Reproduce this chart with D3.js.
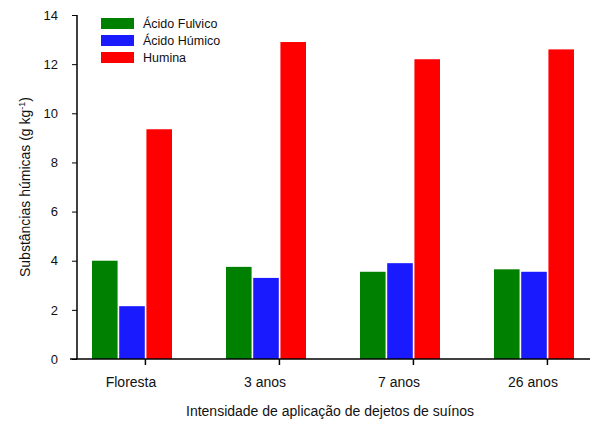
<!DOCTYPE html><html><head><meta charset="utf-8"><script src="https://cdn.jsdelivr.net/npm/d3@7"></script>
<style>body{margin:0;background:#fff}text{font-family:Arial,"Liberation Sans",sans-serif;fill:#111}</style></head><body><svg width="600" height="428"></svg><script>
const categories=["Floresta","3 anos","7 anos","26 anos"];
const seriesNames=["Ácido Fulvico","Ácido Húmico","Humina"];
const fulvico=[4.0,3.75,3.55,3.65];
const humico=[2.15,3.3,3.9,3.55];
const humina=[9.35,12.9,12.2,12.6];
const yTicks=[0,2,4,6,8,10,12,14];
const colors=["#008000","#1a1aff","#ff0000"];
const series=[fulvico,humico,humina];
const svg=d3.select("svg");
const y=d3.scaleLinear().domain([0,14]).range([359,15]);
const x=d3.scaleBand().domain(categories).range([64,600]).paddingInner(0);
const sub=d3.scaleBand().domain([0,1,2]).range([0,80]).paddingInner(0.06);
const g=svg.append("g");
categories.forEach((c,i)=>{
  series.forEach((s,j)=>{
    g.append("rect").attr("x",x(c)+28+sub(j)).attr("width",sub.bandwidth())
     .attr("y",y(s[i])).attr("height",y(0)-y(s[i])).attr("fill",colors[j]);
  });
});
const ya=svg.append("g").attr("transform","translate(77,0)").call(d3.axisLeft(y).tickValues(yTicks).tickSize(5).tickPadding(14));
ya.select(".domain").attr("stroke","#000").attr("stroke-width",1.5).attr("d","M0,15V359");
ya.selectAll("text").style("font-size","13px").attr("fill","#222");
svg.append("line").attr("x1",70).attr("x2",590).attr("y1",359).attr("y2",359).attr("stroke","#000").attr("stroke-width",1.5);
categories.forEach((c,i)=>{
  const tx=x(c)+28+sub(2)-1;
  svg.append("line").attr("x1",tx).attr("x2",tx).attr("y1",359).attr("y2",365).attr("stroke","#000").attr("stroke-width",1.5);
  svg.append("text").attr("x",x(c)+x.bandwidth()/2-0).attr("y",387).attr("text-anchor","middle").style("font-size","14px").text(c);
});
svg.append("text").attr("x",330).attr("y",416).attr("text-anchor","middle").style("font-size","14px").text("Intensidade de aplicação de dejetos de suínos");
const yl=svg.append("text").attr("transform","translate(30,187) rotate(-90)").attr("text-anchor","middle").style("font-size","14px");
yl.append("tspan").text("Substâncias húmicas (g kg");
yl.append("tspan").attr("dy",-5).style("font-size","9px").text("-1");
yl.append("tspan").attr("dy",5).text(")");
seriesNames.forEach((n,j)=>{
  svg.append("rect").attr("x",101).attr("y",18+j*17).attr("width",33).attr("height",11).attr("fill",colors[j]);
  svg.append("text").attr("x",143).attr("y",28+j*17).style("font-size","12.5px").text(n);
});
</script></body></html>
